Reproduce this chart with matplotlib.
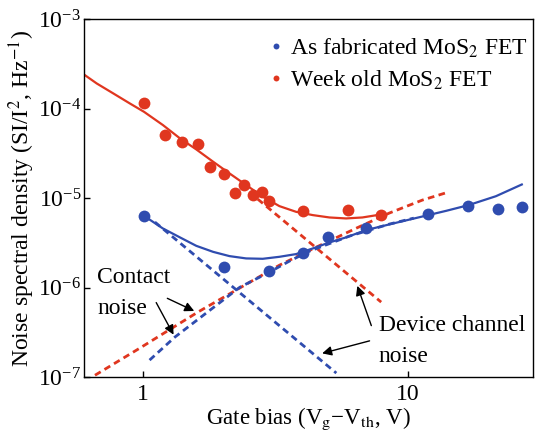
import matplotlib
matplotlib.use("Agg")
import matplotlib.pyplot as plt

plt.rcParams["font.family"] = ["Liberation Serif", "DejaVu Serif"]
plt.rcParams["mathtext.fontset"] = "stix"

RED = "#e0361f"
BLUE = "#2f4caf"

# measured points
red_x = [1.01, 1.21, 1.41, 1.61, 1.79, 2.02, 2.22, 2.40, 2.59, 2.80, 3.00, 4.00, 5.95, 7.91]
red_y = [1.15e-4, 5.06e-5, 4.22e-5, 4.01e-5, 2.22e-5, 1.85e-5, 1.14e-5, 1.40e-5,
         1.08e-5, 1.17e-5, 9.25e-6, 7.16e-6, 7.34e-6, 6.46e-6]
blue_x = [1.01, 2.02, 3.00, 4.00, 5.00, 6.95, 11.9, 16.8, 21.8, 26.8]
blue_y = [6.29e-6, 1.69e-6, 1.53e-6, 2.43e-6, 3.67e-6, 4.62e-6, 6.63e-6, 8.14e-6, 7.54e-6, 7.94e-6]

# fitted curves
red_fit_x = [0.580, 0.670, 0.773, 0.894, 1.01, 1.19, 1.38, 1.59, 1.84, 2.12, 2.45, 2.83,
             3.27, 3.78, 4.37, 5.05, 5.83, 6.72, 7.93]
red_fit_y = [2.58e-4, 1.91e-4, 1.48e-4, 1.14e-4, 9.21e-5, 6.55e-5, 4.65e-5, 3.50e-5, 2.55e-5,
             1.89e-5, 1.40e-5, 1.04e-5, 8.14e-6, 7.03e-6, 6.46e-6, 6.08e-6, 5.93e-6, 6.08e-6, 6.58e-6]
blue_fit_x = [1.01, 1.19, 1.38, 1.59, 1.84, 2.12, 2.45, 2.83, 3.27, 3.78, 4.37, 5.05, 5.83,
              6.93, 8.99, 11.9, 13.9, 16.9, 21.4, 26.8]
blue_fit_y = [6.34e-6, 4.58e-6, 3.64e-6, 2.93e-6, 2.51e-6, 2.25e-6, 2.12e-6, 2.10e-6, 2.21e-6,
              2.37e-6, 2.74e-6, 3.20e-6, 3.64e-6, 4.39e-6, 5.30e-6, 6.46e-6, 7.21e-6, 8.36e-6,
              1.05e-5, 1.42e-5]

# noise components (dashed)
red_contact_x = [0.660, 0.974, 1.61, 3.27, 4.51, 6.38, 8.48, 11.3, 13.8]
red_contact_y = [1.05e-7, 2.11e-7, 5.32e-7, 1.78e-6, 2.84e-6, 4.62e-6, 6.80e-6, 9.50e-6, 1.14e-5]
blue_contact_x = [1.06, 1.32, 2.32, 3.00, 3.57, 4.25, 6.00, 8.48, 10.5]
blue_contact_y = [1.55e-7, 2.80e-7, 1.01e-6, 1.49e-6, 1.98e-6, 2.56e-6, 3.76e-6, 5.12e-6, 5.98e-6]
red_channel_x = [2.71, 7.91]
red_channel_y = [9.75e-6, 6.89e-7]
blue_channel_x = [1.11, 5.36]
blue_channel_y = [5.40e-6, 1.11e-7]

fig = plt.figure(figsize=(5.35, 4.34), dpi=100)
ax = fig.add_axes([0.157, 0.131, 0.839, 0.825])
ax.set_xscale("log")
ax.set_yscale("log")

dash = dict(lw=2.0, ls=(0, (2.4, 1.6)))
ax.plot(red_contact_x, red_contact_y, color=RED, **dash)
ax.plot(red_channel_x, red_channel_y, color=RED, **dash)
ax.plot(blue_contact_x, blue_contact_y, color=BLUE, **dash)
ax.plot(blue_channel_x, blue_channel_y, color=BLUE, **dash)

ax.plot(red_fit_x, red_fit_y, color=RED, lw=1.6)
ax.plot(blue_fit_x, blue_fit_y, color=BLUE, lw=1.6)

ax.plot(blue_x, blue_y, "o", color=BLUE, ms=8.5, mew=0, label=r"As fabricated MoS$_2$ FET")
ax.plot(red_x, red_y, "o", color=RED, ms=8.5, mew=0, label=r"Week old MoS$_2$ FET")

ax.set_xlim(0.6, 29.5)
ax.set_ylim(1e-7, 1e-3)
ax.set_xticks([1, 10])
ax.set_xticklabels(["1", "10"])
ax.set_yticks([1e-7, 1e-6, 1e-5, 1e-4, 1e-3])
ax.minorticks_off()
ax.tick_params(direction="in", length=4, width=1, labelsize=17, pad=2)
ax.tick_params(axis="x", pad=5)
for s in ax.spines.values():
    s.set_linewidth(1.0)

ax.set_xlabel(r"Gate bias (V$_{\rm g}$−V$_{\rm th}$, V)", fontsize=16.5, labelpad=0)
ax.set_ylabel(r"Noise spectral density (SI/I$^2$, Hz$^{-1}$)", fontsize=17, labelpad=1)

leg = ax.legend(loc="upper right", bbox_to_anchor=(1.0, 0.964), frameon=False,
                fontsize=17, markerscale=0.5, handlelength=0.6, handletextpad=0.3,
                labelspacing=0.35, borderaxespad=0, borderpad=0.2)

# annotations
arw = dict(arrowstyle="-|>", color="black", lw=1.0, mutation_scale=14)
ax.text(0.029, 0.279, "Contact", transform=ax.transAxes, fontsize=17, va="center")
ax.text(0.029, 0.193, "noise", transform=ax.transAxes, fontsize=17, va="center")
ax.annotate("", xy=(1.596, 5.32e-7), xytext=(1.21, 7.83e-7), arrowprops=arw)
ax.annotate("", xy=(1.32, 2.80e-7), xytext=(1.11, 7.25e-7), arrowprops=arw)

ax.text(0.657, 0.145, "Device channel", transform=ax.transAxes, fontsize=17, va="center")
ax.text(0.657, 0.059, "noise", transform=ax.transAxes, fontsize=17, va="center")
ax.annotate("", xy=(6.38, 1.12e-6), xytext=(7.32, 3.52e-7), arrowprops=arw)
ax.annotate("", xy=(4.63, 1.81e-7), xytext=(7.32, 2.59e-7), arrowprops=arw)

fig.savefig("out.png", dpi=100, facecolor="white")
